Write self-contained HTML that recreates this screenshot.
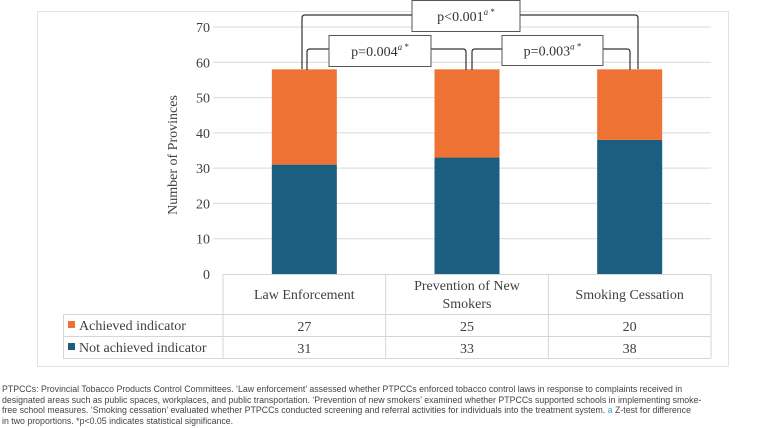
<!DOCTYPE html>
<html><head><meta charset="utf-8"><style>
body{margin:0;width:760px;height:428px;background:#fff;overflow:hidden;position:relative;font-family:"Liberation Serif",serif;}
svg{position:absolute;left:0;top:0;font-family:"Liberation Serif",serif}
svg text{font-family:"Liberation Serif",serif}
.fn{position:absolute;left:2px;top:385px;font-family:"Liberation Sans",sans-serif;font-size:9.6px;line-height:10.6px;color:#444;white-space:nowrap;transform:scaleX(0.915);transform-origin:0 0}
.fn span{color:#3aa0d8}
</style></head><body>
<svg id="chart" width="760" height="385"></svg>
<div class="fn">PTPCCs: Provincial Tobacco Products Control Committees. ‘Law enforcement’ assessed whether PTPCCs enforced tobacco control laws in response to complaints received in<br>designated areas such as public spaces, workplaces, and public transportation. ‘Prevention of new smokers’ examined whether PTPCCs supported schools in implementing smoke-<br>free school measures. ‘Smoking cessation’ evaluated whether PTPCCs conducted screening and referral activities for individuals into the treatment system. <span>a</span> Z-test for difference<br>in two proportions. *p&lt;0.05 indicates statistical significance.</div>
<script>
const categories=[["Law Enforcement"],["Prevention of New","Smokers"],["Smoking Cessation"]];
const notAchieved=[31,33,38];
const achieved=[27,25,20];
const yTicks=[0,10,20,30,40,50,60,70];
const seriesNames=["Achieved indicator","Not achieved indicator"];
const colors={ach:"#ED7234",not:"#1B5E7F"};
const NS="http://www.w3.org/2000/svg";
const svg=document.getElementById('chart');
function el(tag,attrs,parent){const e=document.createElementNS(NS,tag);for(const k in attrs)e.setAttribute(k,attrs[k]);(parent||svg).appendChild(e);return e;}
const FF='Liberation Serif, serif';
const plotL=223,plotR=711,y0=274,yPer=(274-27)/70;
const y=v=>y0-v*yPer;
const colW=(plotR-plotL)/categories.length;
const xc=i=>plotL+colW*(i+0.5);
const barW=65;
let b=el('rect',{x:37.5,y:11.5,width:691,height:355,fill:'none',stroke:'#e3e3e3'});

yTicks.forEach(t=>{
  if(t>0){let g=el('line',{x1:plotL-10,x2:plotR,y1:y(t),y2:y(t),stroke:'#d9d9d9','stroke-width':1});
  }
  let tx=el('text',{x:210,y:y(t)+5,'text-anchor':'end','font-size':14,fill:'#404040','font-family':FF});tx.textContent=t;
  
});
let yt=el('text',{x:0,y:0,transform:'translate(177,155) rotate(-90)','text-anchor':'middle','font-size':14,fill:'#404040','font-family':FF});
yt.textContent='Number of Provinces';

categories.forEach((c,i)=>{
  let r1=el('rect',{x:xc(i)-barW/2,y:y(notAchieved[i]),width:barW,height:y0-y(notAchieved[i]),fill:colors.not});
  
  let tot=notAchieved[i]+achieved[i];
  let r2=el('rect',{x:xc(i)-barW/2,y:y(tot),width:barW,height:y(notAchieved[i])-y(tot),fill:colors.ach});
  
});
const tl=63;
const tg=el('g',{stroke:'#d6d6d6','stroke-width':1,fill:'none'});

el('line',{x1:plotL,x2:plotR,y1:274.5,y2:274.5},tg);
[314.5,336.5,358.5].forEach(v=>el('line',{x1:tl,x2:plotR,y1:v,y2:v},tg));
el('line',{x1:tl+.5,x2:tl+.5,y1:314,y2:358},tg);
for(let i=0;i<=categories.length;i++)el('line',{x1:plotL+colW*i,x2:plotL+colW*i,y1:274,y2:358},tg);
categories.forEach((c,i)=>{
  c.forEach((line,j)=>{
    let t=el('text',{x:xc(i),y:(c.length==1?299:290+j*18),'text-anchor':'middle','font-size':14,fill:'#404040','font-family':FF});
    t.textContent=line;
  });
  let a=el('text',{x:xc(i),y:331,'text-anchor':'middle','font-size':14,fill:'#404040','font-family':FF});a.textContent=achieved[i];
  
  let n=el('text',{x:xc(i),y:353,'text-anchor':'middle','font-size':14,fill:'#404040','font-family':FF});n.textContent=notAchieved[i];
  
});
[[colors.ach,seriesNames[0],325],[colors.not,seriesNames[1],347]].forEach(([col,name,cy])=>{
  let s=el('rect',{x:68,y:cy-4,width:7,height:7,fill:col});
  
  let t=el('text',{x:79,y:cy+5,'font-size':14,fill:'#404040','font-family':FF});t.textContent=name;
  
});
function bracket(x1,x2,top,bottom,label,bx,by,bw,bh,name){
  const g=el('g',{});
  el('path',{d:`M${x1},${bottom} V${top+3} Q${x1},${top} ${x1+3},${top} H${x2-3} Q${x2},${top} ${x2},${top+3} V${bottom}`,fill:'none',stroke:'#333','stroke-width':1.2},g);
  el('rect',{x:bx,y:by,width:bw,height:bh,fill:'#fff',stroke:'#555','stroke-width':1},g);
  const t=el('text',{x:bx+bw/2,y:by+bh/2+5,'text-anchor':'middle','font-size':14,fill:'#333','font-family':FF},g);
  t.innerHTML=label+'<tspan font-size="9" dy="-6" font-style="italic">a</tspan><tspan font-size="9"> *</tspan>';
}
bracket(302,638,15,69,'p&lt;0.001',412,0.5,108,31,'bracket-law-vs-cessation');
bracket(307,466,49,70,'p=0.004',329,35.5,102,31,'bracket-law-vs-prevention');
bracket(472,630,49,70,'p=0.003',502,35.5,101,30,'bracket-prevention-vs-cessation');
</script>
</body></html>
